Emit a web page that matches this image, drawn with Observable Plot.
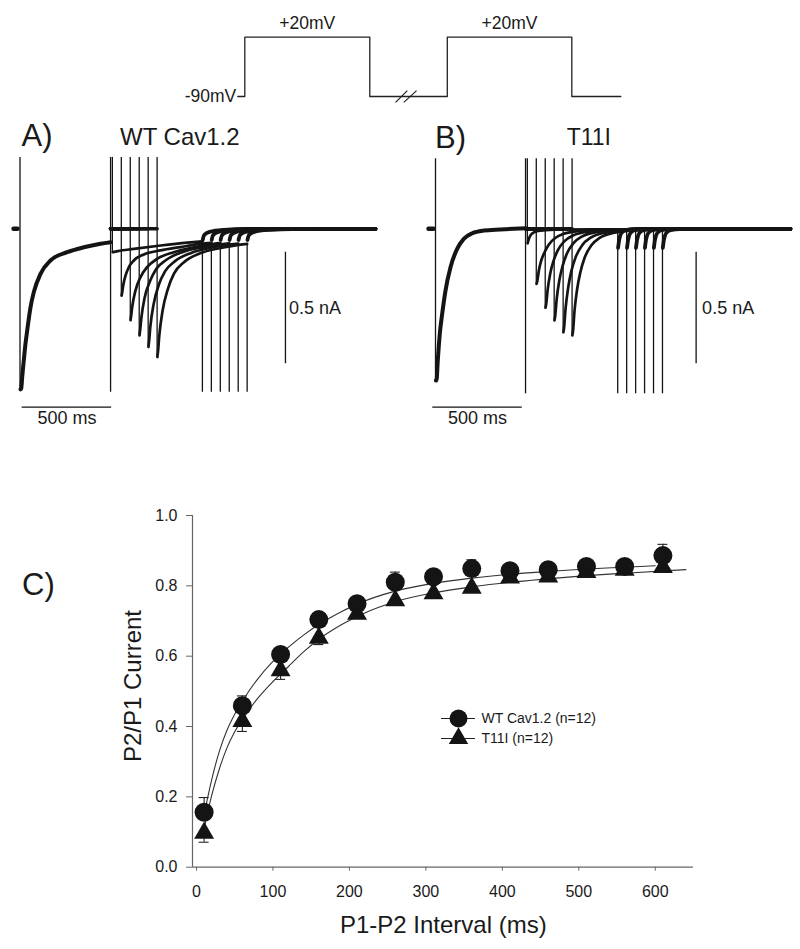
<!DOCTYPE html>
<html><head><meta charset="utf-8">
<script src="https://cdn.jsdelivr.net/npm/d3@7"></script>
<script src="https://cdn.jsdelivr.net/npm/@observablehq/plot@0.6"></script>
<style>
html,body{margin:0;padding:0;background:#fff;}
#fig{position:relative;width:800px;height:949px;overflow:hidden;font-family:"Liberation Sans",Arial,Helvetica,sans-serif;color:#1a1a1a;}
.lbl{position:absolute;line-height:1;white-space:nowrap;}
</style></head>
<body><div id="fig"></div>
<script>
// ================= DATA =================
// --- voltage protocol (schematic, ms / mV) ---
const protocolTime = [0, 28, 528, 838, 1336, 1532];
const protocolVoltage = [-90, 20, -90, 20, -90, -90];
const breakTimes = [[631, 678], [664, 715]];
const breakVoltage = [-101, -79];

// --- current traces: t in ms from P1 onset, I in nA ---
const sweepIntervals = [10, 60, 110, 160, 210, 260];
const holdingLevel = 0;
const scaleBarMs = 500;
const scaleBarNa = 0.5;

// Panel A: WT Cav1.2
const wtHold = [[-36, 0], [-14, 0]];
const wtP1 = [[3, -0.72], [6.7, -0.716], [13, -0.658], [21.2, -0.59], [30, -0.52], [40.2, -0.456], [58.7, -0.352],
  [77.1, -0.284], [114.5, -0.202], [170.4, -0.142], [263.7, -0.105], [356.4, -0.083], [449.7, -0.067], [506, -0.060]];
const wtP2_10 = [[2, -0.105], [30, -0.1], [120, -0.09], [270, -0.075], [419, -0.062], [503, -0.056]];
const wtP2_60 = [[1.5, -0.30], [5, -0.285], [10.6, -0.254], [23.5, -0.21], [42, -0.172], [70, -0.142], [126, -0.115], [219, -0.097], [330, -0.082], [442, -0.068], [503, -0.063]];
const wtP2_110 = [[1.5, -0.41], [5, -0.39], [10.6, -0.352], [29, -0.277], [57, -0.217], [94, -0.172], [150, -0.135], [243, -0.105], [355, -0.083], [467, -0.067], [503, -0.064]];
const wtP2_160 = [[1.5, -0.478], [5, -0.455], [12, -0.40], [30, -0.31], [60, -0.235], [95, -0.18], [150, -0.14], [240, -0.105], [350, -0.083], [503, -0.065]];
const wtP2_210 = [[1.5, -0.53], [5, -0.505], [12, -0.44], [30, -0.34], [60, -0.25], [95, -0.19], [150, -0.145], [240, -0.108], [350, -0.085], [503, -0.066]];
const wtP2_260 = [[1.5, -0.575], [5, -0.55], [12, -0.48], [30, -0.37], [60, -0.27], [95, -0.2], [150, -0.15], [240, -0.11], [350, -0.087], [503, -0.068]];
const wtTail = [[2, -0.05], [10, -0.028], [40, -0.014], [120, -0.005], [250, -0.001]];

// Panel B: T11I
const tbHold = [[-39, 0], [-11, 0]];
const tbP1 = [[2, -0.68], [5.6, -0.68], [12.8, -0.59], [24, -0.471], [37.4, -0.381], [55.9, -0.277], [83.8, -0.172],
  [121, -0.09], [158, -0.045], [205, -0.02], [270, -0.008], [363, -0.003], [503, 0.003]];
const tbP2_10 = [[1.5, -0.065], [5, -0.055], [12, -0.038], [25, -0.022], [60, -0.01], [150, -0.004], [505, -0.002]];
const tbP2_60 = [[1.5, -0.247], [5, -0.237], [14.5, -0.187], [27.9, -0.142], [46.4, -0.105], [70.4, -0.07], [107.8, -0.04], [154, -0.022], [229, -0.011], [359, -0.004], [505, -0.002]];
const tbP2_110 = [[1.5, -0.354], [5, -0.34], [14, -0.27], [28, -0.2], [46, -0.145], [70, -0.097], [108, -0.055], [154, -0.03], [229, -0.014], [360, -0.005], [505, -0.002]];
const tbP2_160 = [[1.5, -0.411], [5, -0.395], [14, -0.315], [28, -0.235], [46, -0.17], [70, -0.113], [108, -0.064], [154, -0.035], [229, -0.016], [360, -0.006], [505, -0.002]];
const tbP2_210 = [[1.5, -0.464], [5, -0.445], [14, -0.355], [28, -0.265], [46, -0.19], [70, -0.127], [108, -0.072], [154, -0.04], [229, -0.018], [360, -0.006], [505, -0.002]];
const tbP2_260 = [[1.5, -0.478], [5, -0.46], [14, -0.365], [28, -0.272], [46, -0.196], [70, -0.13], [108, -0.074], [154, -0.041], [229, -0.019], [360, -0.006], [505, -0.002]];
const tbTail = [[2, -0.085], [8, -0.05], [20, -0.02], [45, -0.006], [100, -0.001]];

// --- Panel C: paired-pulse recovery ---
const intervalMs = [10, 60, 110, 160, 210, 260, 310, 360, 410, 460, 510, 560, 610];
const wtRatio = [0.156, 0.459, 0.605, 0.704, 0.749, 0.81, 0.826, 0.849, 0.843, 0.846, 0.855, 0.855, 0.886];
const wtSem = [0.042, 0.028, 0.018, 0.015, 0.012, 0.029, 0.012, 0.025, 0.012, 0.015, 0.012, 0.01, 0.032];
const t11iRatio = [0.097, 0.415, 0.559, 0.652, 0.72, 0.758, 0.778, 0.794, 0.823, 0.826, 0.839, 0.845, 0.853];
const t11iSem = [0.026, 0.029, 0.025, 0.019, 0.012, 0.012, 0.012, 0.012, 0.012, 0.012, 0.012, 0.01, 0.012];
const wtFitMs = [10, 20, 30, 40, 50, 60, 80, 100, 120, 140, 160, 190, 210, 260, 310, 360, 410, 460, 510, 560, 600];
const wtFit = [0.15, 0.25, 0.33, 0.39, 0.435, 0.472, 0.535, 0.585, 0.625, 0.66, 0.69, 0.727, 0.748, 0.785, 0.807, 0.822, 0.833, 0.841, 0.848, 0.853, 0.857];
const t11iFitMs = [10, 20, 30, 40, 50, 60, 80, 100, 120, 140, 160, 190, 220, 260, 310, 360, 410, 460, 510, 560, 640];
const t11iFit = [0.11, 0.205, 0.28, 0.34, 0.385, 0.42, 0.48, 0.528, 0.57, 0.612, 0.648, 0.69, 0.723, 0.755, 0.78, 0.797, 0.81, 0.82, 0.829, 0.836, 0.846];
const legendLabels = ["WT Cav1.2 (n=12)", "T11I (n=12)"];
const xTicks = [0, 100, 200, 300, 400, 500, 600];
const yTicks = [0, 0.2, 0.4, 0.6, 0.8, 1.0];

// ================= LAYOUT / DRAWING =================
const fig = document.getElementById("fig");
const ink = "#141414";
const font = "'Liberation Sans', Arial, Helvetica, sans-serif";
const baseStyle = {background: "transparent", overflow: "visible", fontFamily: font, color: "#1a1a1a"};

function place(node, left, top) {
  node.style.position = "absolute";
  node.style.left = left + "px";
  node.style.top = top + "px";
  node.style.maxWidth = "none";
  fig.appendChild(node);
}
function label(text, x, baseline, fs, {center = false, rotate = false} = {}) {
  const d = document.createElement("div");
  d.className = "lbl";
  d.textContent = text;
  d.style.fontSize = fs + "px";
  if (rotate) {
    d.style.left = x + "px"; d.style.top = baseline + "px";
    d.style.transform = "translate(-50%,-50%) rotate(-90deg)";
  } else {
    d.style.left = x + "px";
    d.style.top = (baseline - 0.8465 * fs) + "px";
    if (center) d.style.transform = "translateX(-50%)";
  }
  fig.appendChild(d);
}

// ---------- protocol ----------
const protoRows = protocolTime.map((t, i) => ({t, v: protocolVoltage[i]}));
const pulseRows = protoRows.slice(0, -1).map((d, i) => ({...d, mid: (d.t + protoRows[i + 1].t) / 2})).filter(d => d.v > 0);
const proto = Plot.plot({
  width: 800, height: 110, margin: 0, style: baseStyle,
  x: {domain: [0, 1000], range: [237.3, 487.3], axis: null},
  y: {domain: [-90, 20], range: [96, 36.7], axis: null},
  marks: [
    Plot.line(protoRows, {x: "t", y: "v", curve: "step-after", stroke: "#222", strokeWidth: 1.3}),
    Plot.link(breakTimes, {x1: d => d[0], x2: d => d[1], y1: () => breakVoltage[0], y2: () => breakVoltage[1], stroke: "#222", strokeWidth: 1.2}),
    Plot.text(pulseRows, {x: "mid", y: "v", text: d => `+${d.v}mV`, dy: -13.5, fontSize: 17.5, fill: "#1a1a1a"}),
    Plot.text([protoRows[0]], {x: "t", y: "v", text: d => `${d.v}mV`, textAnchor: "end", dx: -1.5, fontSize: 17.5, fill: "#1a1a1a"})
  ]
});
place(proto, 0, 0);

// ---------- traces ----------
function buildTraces(p) {
  const curves = [], spikes = [];
  const add = (kind, id, pts, t0 = 0) => pts.forEach(([t, I]) => curves.push({kind, id, t: t0 + t, I}));
  add("hold", "hold", p.hold);
  add("p1", "p1", p.p1);
  spikes.push({t: 0, y1: p.top, y2: p.p1[0][1]});
  spikes.push({t: p.p1End, y1: p.top, y2: p.bottom});
  sweepIntervals.forEach((d, i) => {
    const s = p.p1End + d, e = s + p.p2Dur, tr = p.p2[i];
    add("gap", "gap" + i, [[0, holdingLevel], [d, holdingLevel]], p.p1End);
    spikes.push({t: s, y1: p.top, y2: tr[0][1]});
    add("p2", "p2" + i, tr, s);
    spikes.push({t: e, y1: tr[tr.length - 1][1], y2: p.bottom});
    add("tail", "tail" + i, [...p.tail, [p.end - e, holdingLevel]], e);
  });
  return {curves, spikes};
}
function tracePlot(p, lay) {
  const tr = buildTraces(p);
  const k = kind => tr.curves.filter(d => d.kind === kind);
  return Plot.plot({
    width: 400, height: 440, margin: 0, style: baseStyle,
    x: {domain: [0, 1000], range: [lay.x0, lay.x0 + 179], axis: null},
    y: {domain: [0, -1], range: [228.3, 451.3], axis: null},
    marks: [
      Plot.ruleX(tr.spikes, {x: "t", y1: "y1", y2: "y2", stroke: ink, strokeWidth: 1.3}),
      Plot.line(k("hold"), {x: "t", y: "I", stroke: ink, strokeWidth: 4.5}),
      Plot.line(k("gap"), {x: "t", y: "I", z: "id", stroke: ink, strokeWidth: 3.6}),
      Plot.line(k("tail"), {x: "t", y: "I", z: "id", curve: "monotone-x", stroke: ink, strokeWidth: 3.8}),
      Plot.line(k("p2"), {x: "t", y: "I", z: "id", curve: "monotone-x", stroke: ink, strokeWidth: 2.7}),
      Plot.line(k("p1"), {x: "t", y: "I", curve: "monotone-x", stroke: ink, strokeWidth: 4}),
      Plot.ruleY([lay], {y: d => d.barLevel, x1: d => d.barStart, x2: d => d.barStart + scaleBarMs, stroke: ink, strokeWidth: 1.2}),
      Plot.ruleX([lay], {x: d => d.currentBarAt, y1: d => d.currentBarTop, y2: d => d.currentBarTop - scaleBarNa, stroke: ink, strokeWidth: 1.3}),
      Plot.text([lay], {x: d => d.barStart + scaleBarMs / 2, y: d => d.barLevel, text: () => `${scaleBarMs} ms`, dy: 10.8, fontSize: 18, fill: "#1a1a1a"}),
      Plot.text([lay], {x: d => d.currentBarAt, y: d => d.currentBarTop - scaleBarNa / 2, text: () => `${scaleBarNa} nA`, textAnchor: "start", dx: lay.labelDx, dy: 0, fontSize: 18, fill: "#1a1a1a"})
    ]
  });
}
const A = tracePlot(
  {hold: wtHold, p1: wtP1, p1End: 506, p2Dur: 503, p2: [wtP2_10, wtP2_60, wtP2_110, wtP2_160, wtP2_210, wtP2_260],
   tail: wtTail, top: 0.32, bottom: -0.733, end: 1986},
  {x0: 19.5, barStart: 12, barLevel: -0.8, currentBarAt: 1483, currentBarTop: -0.105, labelDx: 3.5});
place(A, 0, 0);
const B = tracePlot(
  {hold: tbHold, p1: tbP1, p1End: 503, p2Dur: 505, p2: [tbP2_10, tbP2_60, tbP2_110, tbP2_160, tbP2_210, tbP2_260],
   tail: tbTail, top: 0.314, bottom: -0.74, end: 1983},
  {x0: 35, barStart: -15, barLevel: -0.8, currentBarAt: 1456, currentBarTop: -0.105, labelDx: 6});
place(B, 400, 0);

label("A)", 21.5, 146.7, 31);
label("WT Cav1.2", 120, 145, 24);
label("B)", 435, 148, 31);
label("T11I", 566.7, 145, 23);

// ---------- Panel C ----------
const wtRows = intervalMs.map((t, i) => ({t, v: wtRatio[i], sem: wtSem[i]}));
const tRows = intervalMs.map((t, i) => ({t, v: t11iRatio[i], sem: t11iSem[i]}));
const wtFitRows = wtFitMs.map((t, i) => ({t, v: wtFit[i]}));
const tFitRows = t11iFitMs.map((t, i) => ({t, v: t11iFit[i]}));
const xDomain = [-5.2, 650];
const capMs = 6.5;
const axisGray = "#666";
const C = Plot.plot({
  width: 800, height: 469, marginLeft: 192, marginRight: 107, marginTop: 35, marginBottom: 82.3, style: baseStyle,
  x: {domain: xDomain, axis: null},
  y: {domain: [0, 1], axis: null},
  marks: [
    Plot.ruleY([0], {x1: () => xDomain[0], x2: () => xDomain[1], stroke: axisGray, strokeWidth: 1.2}),
    Plot.ruleX([xDomain[0]], {y1: () => 0, y2: () => 1, stroke: axisGray, strokeWidth: 1.2}),
    Plot.axisY({ticks: yTicks, tickFormat: d3.format(".1f"), tickSize: 6, tickPadding: 9, fontSize: 16, stroke: axisGray, fill: "#1a1a1a", label: null}),
    Plot.axisX({ticks: xTicks, tickSize: 4, tickPadding: 14, fontSize: 16, stroke: axisGray, fill: "#1a1a1a", label: null}),
    Plot.line(wtFitRows, {x: "t", y: "v", curve: "monotone-x", stroke: "#333", strokeWidth: 1.1}),
    Plot.line(tFitRows, {x: "t", y: "v", curve: "monotone-x", stroke: "#333", strokeWidth: 1.1}),
    Plot.ruleX(wtRows, {x: "t", y1: "v", y2: d => d.v + d.sem, stroke: "#222", strokeWidth: 1.1}),
    Plot.ruleY(wtRows, {y: d => d.v + d.sem, x1: d => d.t - capMs, x2: d => d.t + capMs, stroke: "#222", strokeWidth: 1.1}),
    Plot.ruleX(tRows, {x: "t", y1: "v", y2: d => d.v - d.sem, stroke: "#222", strokeWidth: 1.1}),
    Plot.ruleY(tRows, {y: d => d.v - d.sem, x1: d => d.t - capMs, x2: d => d.t + capMs, stroke: "#222", strokeWidth: 1.1}),
    Plot.dot(tRows, {x: "t", y: "v", symbol: "triangle", r: 7.4, fill: ink, stroke: "none"}),
    Plot.dot(wtRows, {x: "t", y: "v", symbol: "circle", r: 9.5, fill: ink, stroke: "none"})
  ]
});
place(C, 0, 480);

const legend = Plot.plot({
  width: 200, height: 50, marginLeft: 0, marginRight: 166, marginTop: 0, marginBottom: 0, style: baseStyle,
  x: {domain: [0, 1], axis: null},
  y: {type: "point", domain: legendLabels, range: [18, 38], padding: 0, axis: null},
  marks: [
    Plot.ruleY(legendLabels, {y: d => d, stroke: "#222", strokeWidth: 1.1}),
    Plot.dot([legendLabels[0]], {y: d => d, symbol: "circle", r: 9, fill: ink}),
    Plot.dot([legendLabels[1]], {y: d => d, symbol: "triangle", r: 7.2, fill: ink}),
    Plot.text(legendLabels, {y: d => d, frameAnchor: "right", textAnchor: "start", dx: 6, fontSize: 14, fill: "#1a1a1a"})
  ]
});
place(legend, 441, 700);

label("C)", 22, 595, 31);
label("P1-P2 Interval (ms)", 443.3, 933, 24, {center: true});
label("P2/P1 Current", 133.2, 686, 24, {rotate: true});
</script>
</body></html>
